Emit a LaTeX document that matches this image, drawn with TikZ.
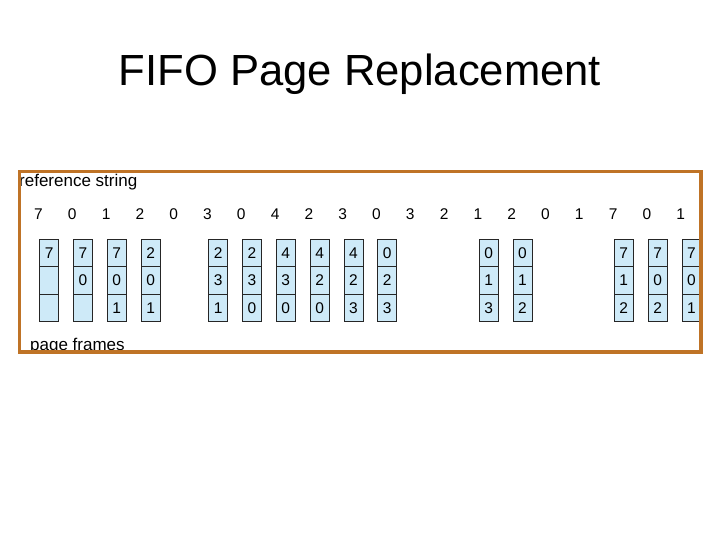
\documentclass[tikz,border=0pt]{standalone}
\usepackage{fontspec}
\setmainfont{Liberation Sans}
\definecolor{framebrown}{RGB}{191,115,38}
\definecolor{cellblue}{RGB}{206,234,248}
\begin{document}
\begin{tikzpicture}[x=1pt,y=-1pt,
  cell/.style={draw=black!85, line width=0.8pt, fill=cellblue, minimum width=19pt,
    minimum height=27.4pt, inner sep=0pt, anchor=north west,
    font=\fontsize{15.5}{18}\selectfont},
  refnum/.style={anchor=base, inner sep=0pt, font=\fontsize{15.5}{18}\selectfont},
  txtlabel/.style={anchor=base west, inner sep=0pt, font=\fontsize{17}{20}\selectfont}]
\useasboundingbox (0,0) rectangle (720,540);
\fill[white] (0,0) rectangle (720,540);
\node[anchor=base, inner sep=0pt, font=\fontsize{43.6}{50}\selectfont] (title) at (360,86) {FIFO Page Replacement};
\node[txtlabel] (refstr) at (19,187) {reference string};
\foreach \v [count=\i from 0] in {7,0,1,2,0,3,0,4,2,3,0,3,2,1,2,0,1,7,0,1}
  \node[refnum] (r\i) at (38.5+33.8*\i,219) {\v};
\foreach \c/\a/\b/\d in {0/7/{}/{},1/7/0/{},2/7/0/1,3/2/0/1,5/2/3/1,6/2/3/0,7/4/3/0,
    8/4/2/0,9/4/2/3,10/0/2/3,13/0/1/3,14/0/1/2,17/7/1/2,18/7/0/2,19/7/0/1}{
  \node[cell] (f\c a) at (39.3+33.8*\c,239) {\a};
  \node[cell] (f\c b) at (39.3+33.8*\c,266.4) {\b};
  \node[cell] (f\c c) at (39.3+33.8*\c,293.8) {\d};
}
\node[txtlabel] (pf) at (30,350) {page frames};
\draw[framebrown, line width=3.8pt] (19.5,171.5) rectangle (701,352);
\end{tikzpicture}
\end{document}
